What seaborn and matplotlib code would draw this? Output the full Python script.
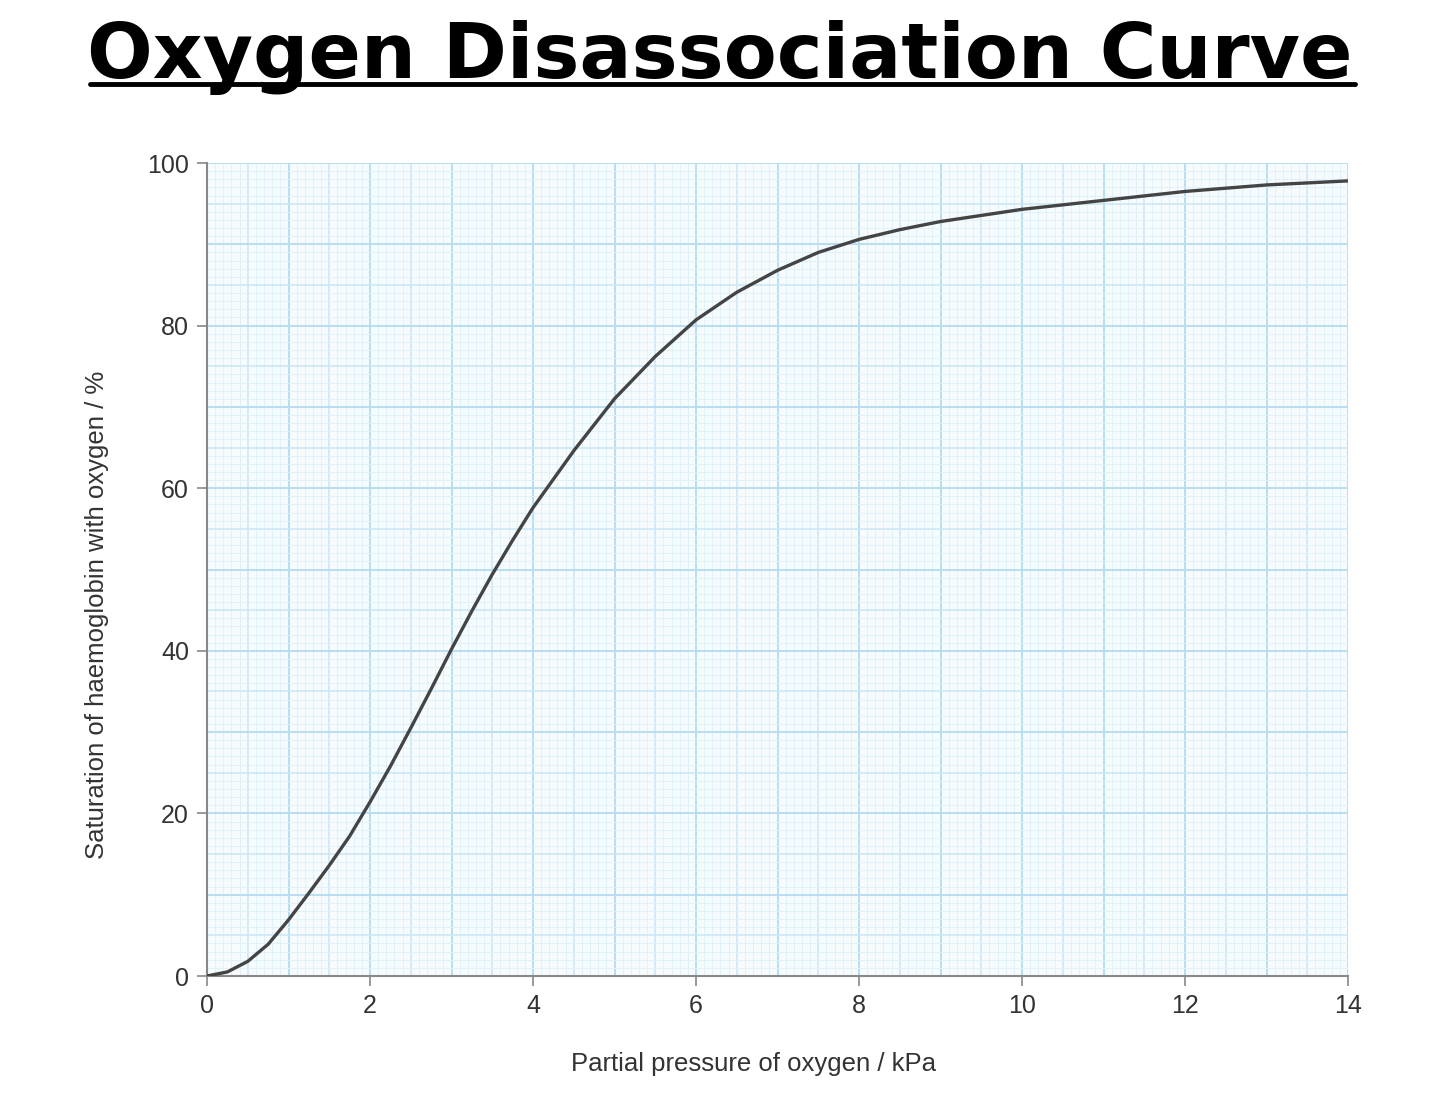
import numpy as np
import pandas as pd
import seaborn as sns
from matplotlib import pyplot as plt
from matplotlib.lines import Line2D

# values
pressure_kpa = [0, 0.25, 0.5, 0.75, 1, 1.25, 1.5, 1.75, 2, 2.25, 2.5, 2.75, 3, 3.25, 3.5,
                3.75, 4, 4.5, 5, 5.5, 6, 6.5, 7, 7.5, 8, 8.5, 9, 10, 11, 12, 13, 14]
saturation_pct = [0, 0.5, 1.8, 3.9, 6.9, 10.2, 13.6, 17.2, 21.4, 25.8, 30.5, 35.3, 40.2, 44.9, 49.4,
                  53.6, 57.6, 64.6, 71, 76.2, 80.7, 84.1, 86.8, 89, 90.6, 91.8, 92.8, 94.3, 95.4,
                  96.5, 97.3, 97.8]
x_ticks = [0, 2, 4, 6, 8, 10, 12, 14]
y_ticks = [0, 20, 40, 60, 80, 100]

df = pd.DataFrame({"pressure": pressure_kpa, "saturation": saturation_pct})

sns.set_style("white")
plt.rcParams['font.family'] = ['Liberation Sans', 'DejaVu Sans']

fig = plt.figure(figsize=(14.4, 10.97), dpi=100)
ax = fig.add_axes([207 / 1440, 1 - 976 / 1097, (1348 - 207) / 1440, (976 - 163) / 1097])
ax.set_facecolor("#f6fbfe")

# graph-paper grid
for v in np.arange(0, 14.001, 0.1):
    k = round(v * 10)
    if k % 10 == 0:
        c, lw = "#b8ddf1", 1.4
    elif k % 5 == 0:
        c, lw = "#cae7f6", 1.1
    else:
        c, lw = "#e0f1fa", 0.7
    ax.axvline(v, color=c, lw=lw, zorder=0)
for v in range(0, 101):
    if v % 10 == 0:
        c, lw = "#b8ddf1", 1.4
    elif v % 5 == 0:
        c, lw = "#cae7f6", 1.1
    else:
        c, lw = "#e0f1fa", 0.7
    ax.axhline(v, color=c, lw=lw, zorder=0)

sns.lineplot(data=df, x="pressure", y="saturation", ax=ax, color="#444444", lw=2.4, zorder=3)

ax.set_xlim(0, 14)
ax.set_ylim(0, 100)
ax.set_xticks(x_ticks)
ax.set_yticks(y_ticks)
ax.tick_params(axis="both", direction="out", length=7, width=1.2, color="#888888",
               labelsize=18, labelcolor="#333333", pad=6, bottom=True, left=True)
for s in ["top", "right"]:
    ax.spines[s].set_visible(False)
for s in ["left", "bottom"]:
    ax.spines[s].set_color("#888888")
    ax.spines[s].set_linewidth(1.5)

ax.set_xlabel("Partial pressure of oxygen / kPa", fontsize=18.5, color="#333333")
ax.set_ylabel("Saturation of haemoglobin with oxygen / %", fontsize=18.5, color="#333333")
ax.xaxis.set_label_coords(0.479, -0.094)
ax.yaxis.set_label_coords(-0.086, 0.444)

# title with underline, fitted to the reference width
title = fig.text(0.5, 1 - 78 / 1097, "Oxygen Disassociation Curve", ha="center", va="baseline",
                 fontsize=60, fontweight="bold", family=["DejaVu Sans"], color="black")
fig.canvas.draw()
bb = title.get_window_extent()
title.set_fontsize(60 * (1355 - 90) / bb.width)
fig.add_artist(Line2D([90 / 1440, 1355 / 1440], [1 - 84 / 1097, 1 - 84 / 1097],
                      color="black", lw=3.5, transform=fig.transFigure))

fig.savefig("out.png", dpi=100)
